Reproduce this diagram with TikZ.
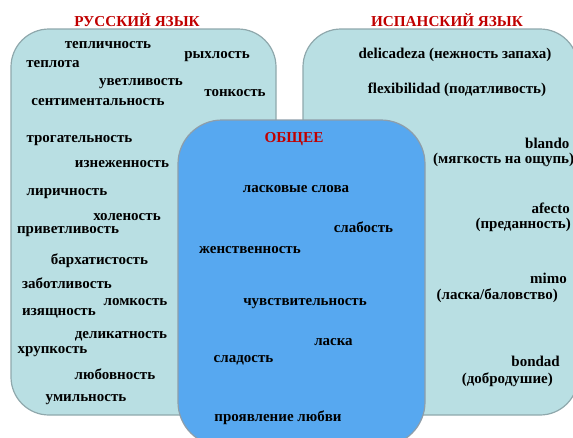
\documentclass[tikz,border=0pt]{standalone}
\usepackage{fontspec}
\setmainfont{Liberation Serif}
\definecolor{teal}{HTML}{B9DFE3}
\definecolor{tealb}{HTML}{8FA8AC}
\definecolor{blu}{HTML}{57A8F0}
\definecolor{blub}{HTML}{8E9EAA}
\definecolor{ttl}{HTML}{C00000}
\begin{document}
\begin{tikzpicture}[x=1pt,y=-1pt,
  panel/.style={draw=tealb,fill=teal,line width=1.2pt,rounded corners=38pt,inner sep=0pt},
  common/.style={draw=blub,fill=blu,line width=1.2pt,rounded corners=44pt,inner sep=0pt},
  w/.style={font=\fontsize{15}{17}\selectfont\bfseries,inner sep=0pt,text=black,yshift=-2.5pt},
  ttl/.style={font=\fontsize{15.2}{17}\selectfont\bfseries,inner sep=0pt,text=ttl}]
\useasboundingbox (0,0) rectangle (573,437);
\node[panel,minimum width=265pt,minimum height=386pt] (ru) at (143.5,222) {};
\node[panel,minimum width=275pt,minimum height=386pt] (es) at (440.5,222) {};
\node[common,minimum width=247pt,minimum height=326pt] (co) at (301.5,283) {};
\node[ttl] (tru) at (137,20) {РУССКИЙ ЯЗЫК};
\node[ttl] (tes) at (447,20) {ИСПАНСКИЙ ЯЗЫК};
\node[ttl] (tco) at (294,139) {ОБЩЕЕ};
% Russian
\node[w] (r1) at (108,43) {тепличность};
\node[w] (r2) at (217,54) {рыхлость};
\node[w] (r3) at (53,62) {теплота};
\node[w] (r4) at (141,81) {уветливость};
\node[w] (r5) at (235,91) {тонкость};
\node[w] (r6) at (98,100) {сентиментальность};
\node[w] (r7) at (79.5,138) {трогательность};
\node[w] (r8) at (122,162) {изнеженность};
\node[w] (r9) at (67,191) {лиричность};
\node[w] (r10) at (127,215) {холеность};
\node[w] (r11) at (68,229) {приветливость};
\node[w] (r12) at (99.5,258) {бархатистость};
\node[w] (r13) at (67,281) {заботливость};
\node[w] (r14) at (135.5,300) {ломкость};
\node[w] (r15) at (59,311) {изящность};
\node[w] (r16) at (121,334) {деликатность};
\node[w] (r17) at (52.5,349) {хрупкость};
\node[w] (r18) at (115,372) {любовность};
\node[w] (r19) at (86,397) {умильность};
% Common
\node[w] (c1) at (296,187) {ласковые слова};
\node[w] (c2) at (363.5,225) {слабость};
\node[w] (c3) at (250,248) {женственность};
\node[w] (c4) at (305,301) {чувствительность};
\node[w] (c5) at (333.5,340) {ласка};
\node[w] (c6) at (243.5,358) {сладость};
\node[w] (c7) at (278,415) {проявление любви};
% Spanish
\node[w] (s1) at (455,52) {delicadeza (нежность запаха)};
\node[w] (s2) at (457,87) {flexibilidad (податливость)};
\node[w,anchor=west] (s3) at (525,141) {blando};
\node[w,anchor=west] (s4) at (433,157) {(мягкость на ощупь)};
\node[w,anchor=east] (s5) at (570,206) {afecto};
\node[w,anchor=east] (s6) at (571,222) {(преданность)};
\node[w,anchor=east] (s7) at (567,276) {mimo};
\node[w,anchor=east] (s8) at (558,293) {(ласка/баловство)};
\node[w,anchor=east] (s9) at (560,359) {bondad};
\node[w,anchor=east] (s10) at (553,377) {(добродушие)};
\end{tikzpicture}
\end{document}
